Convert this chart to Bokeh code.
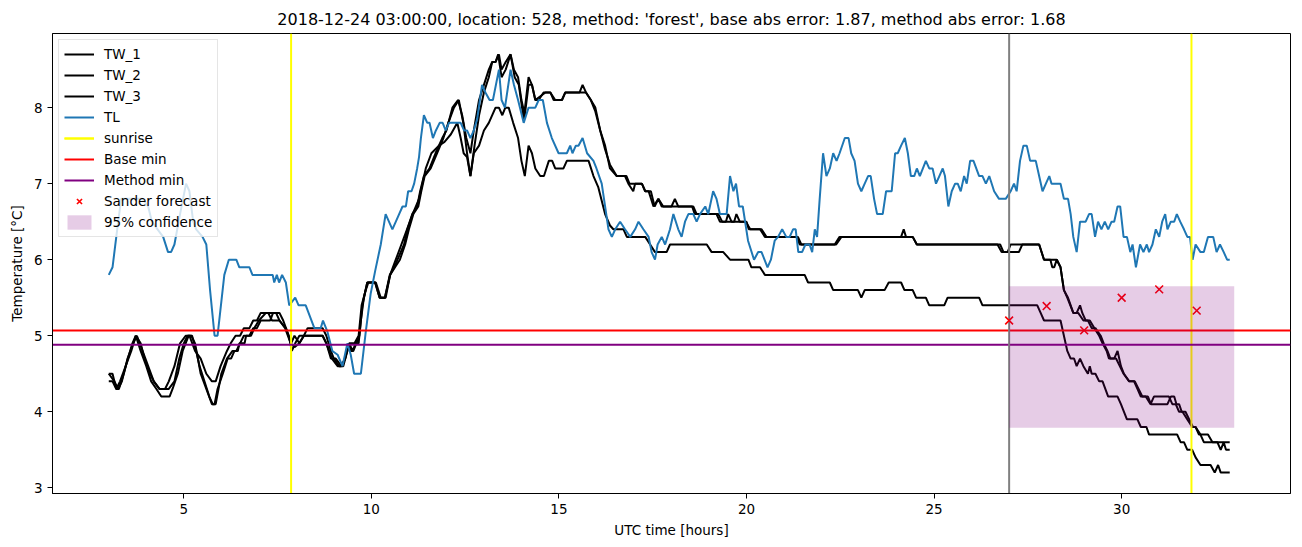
from bokeh.plotting import figure
from bokeh.models import FixedTicker, Range1d
from bokeh.embed import file_html
from bokeh.resources import INLINE

title_text = "2018-12-24 03:00:00, location: 528, method: 'forest', base abs error: 1.87, method abs error: 1.68"

tl_t = [3.0, 3.1, 3.2, 3.33, 3.5, 3.7, 3.9, 4.05, 4.15, 4.3, 4.45, 4.58, 4.66, 4.75, 4.9, 5.06, 5.15, 5.25, 5.33, 5.5,
        5.6, 5.7, 5.82, 5.9, 6.08, 6.2, 6.4, 6.48, 6.75, 6.83, 7.37, 7.41, 7.48, 7.54, 7.62, 7.72, 7.81, 7.97, 8.06, 8.25,
        8.48, 8.65, 8.71, 8.83, 8.96, 9.1, 9.23, 9.36, 9.45, 9.54, 9.72, 9.85, 9.98, 10.1, 10.25, 10.38, 10.56, 10.74, 10.83, 10.92,
        10.98, 11.07, 11.14, 11.22, 11.27, 11.32, 11.4, 11.49, 11.55, 11.64, 11.72, 11.82, 11.9, 11.98, 12.07, 12.38, 12.47, 12.55, 12.64, 12.73,
        12.82, 12.95, 13.04, 13.15, 13.24, 13.4, 13.47, 13.56, 13.71, 13.8, 13.91, 14.06, 14.19, 14.37, 14.46, 14.57, 14.68, 14.81, 14.99, 15.21,
        15.3, 15.36, 15.45, 15.52, 15.63, 15.75, 15.92, 16.0, 16.14, 16.23, 16.32, 16.41, 16.5, 16.63, 16.76, 16.9, 17.03, 17.12, 17.25, 17.39,
        17.47, 17.56, 17.63, 17.74, 17.83, 17.96, 18.05, 18.18, 18.27, 18.36, 18.45, 18.58, 18.67, 18.76, 18.9, 18.98, 19.11, 19.2, 19.29, 19.47,
        19.56, 19.65, 19.72, 19.8, 19.9, 20.04, 20.2, 20.31, 20.4, 20.56, 20.65, 20.75, 20.84, 20.95, 21.06, 21.15, 21.24, 21.31, 21.38, 21.48,
        21.57, 21.68, 21.75, 21.82, 21.88, 21.95, 22.04, 22.13, 22.22, 22.31, 22.4, 22.48, 22.62, 22.72, 22.79, 22.88, 22.97, 23.06, 23.15, 23.24,
        23.31, 23.4, 23.48, 23.63, 23.72, 23.87, 23.96, 24.03, 24.12, 24.22, 24.3, 24.38, 24.47, 24.54, 24.62, 24.78, 24.87, 24.96, 25.05, 25.14,
        25.23, 25.29, 25.38, 25.47, 25.56, 25.63, 25.71, 25.8, 25.87, 25.96, 26.05, 26.2, 26.29, 26.38, 26.47, 26.6, 26.73, 26.91, 27.04, 27.13,
        27.2, 27.29, 27.38, 27.47, 27.56, 27.71, 27.8, 27.89, 27.98, 28.07, 28.13, 28.37, 28.46, 28.57, 28.64, 28.71, 28.8, 28.89, 29.04, 29.13,
        29.2, 29.29, 29.37, 29.46, 29.55, 29.64, 29.73, 29.8, 29.89, 29.96, 30.05, 30.14, 30.23, 30.29, 30.38, 30.49, 30.58, 30.67, 30.73, 30.82,
        30.91, 31.0, 31.08, 31.16, 31.22, 31.31, 31.4, 31.47, 31.56, 31.66, 31.75, 31.82, 31.89, 31.97, 32.1, 32.19, 32.3, 32.44, 32.53, 32.62,
        32.72, 32.81, 32.88]
tl_v = [5.8, 5.9, 6.3, 6.8, 6.8, 6.8, 6.8, 6.7, 6.5, 6.4, 6.3, 6.1, 6.1, 6.2, 6.6, 7.0, 6.9, 6.5, 6.4, 6.3,
        6.2, 5.6, 5.0, 5.0, 5.8, 6.0, 6.0, 5.9, 5.9, 5.8, 5.8, 5.7, 5.8, 5.7, 5.8, 5.7, 5.4, 5.5, 5.4, 5.4,
        5.1, 5.1, 5.2, 5.05, 4.8, 4.75, 4.6, 4.9, 4.75, 4.5, 4.5, 5.05, 5.55, 5.85, 6.2, 6.6, 6.4, 6.6, 6.7, 6.7,
        6.9, 6.9, 7.0, 7.2, 7.35, 7.6, 7.9, 7.8, 7.8, 7.6, 7.7, 7.8, 7.8, 7.7, 7.8, 7.8, 7.7, 7.7, 7.6, 7.7,
        7.85, 8.3, 8.2, 8.1, 8.1, 8.5, 8.1, 8.0, 8.5, 8.3, 8.1, 7.8, 8.0, 8.0, 8.1, 8.1, 7.8, 7.6, 7.4, 7.4,
        7.5, 7.4, 7.5, 7.5, 7.6, 7.4, 7.3, 7.2, 7.0, 6.7, 6.4, 6.3, 6.4, 6.5, 6.4, 6.3, 6.4, 6.5, 6.4, 6.3,
        6.1, 6.0, 6.2, 6.3, 6.2, 6.4, 6.6, 6.4, 6.3, 6.5, 6.6, 6.6, 6.5, 6.6, 6.7, 6.6, 6.9, 6.8, 6.6, 6.6,
        7.1, 6.9, 7.0, 6.7, 6.7, 6.25, 6.0, 6.1, 6.1, 5.9, 6.0, 6.25, 6.3, 6.4, 6.3, 6.3, 6.4, 6.4, 6.1, 6.1,
        6.2, 6.2, 6.1, 6.4, 6.3, 6.8, 7.4, 7.1, 7.2, 7.4, 7.3, 7.4, 7.6, 7.6, 7.4, 7.3, 7.0, 6.9, 7.0, 7.1,
        7.1, 6.8, 6.6, 6.6, 6.9, 6.9, 7.4, 7.4, 7.5, 7.6, 7.4, 7.1, 7.1, 7.2, 7.1, 7.3, 7.2, 7.2, 7.0, 7.1,
        7.2, 7.1, 6.7, 6.9, 7.0, 7.0, 6.9, 7.1, 7.0, 7.3, 7.3, 7.1, 7.1, 7.0, 7.1, 6.9, 6.8, 6.8, 6.9, 7.0,
        6.9, 7.3, 7.5, 7.5, 7.3, 7.3, 7.1, 6.9, 7.0, 7.1, 7.0, 7.0, 6.8, 6.8, 6.6, 6.3, 6.1, 6.5, 6.5, 6.6,
        6.6, 6.3, 6.5, 6.4, 6.5, 6.4, 6.5, 6.5, 6.7, 6.7, 6.3, 6.3, 6.1, 6.2, 5.9, 6.2, 6.1, 6.2, 6.1, 6.2,
        6.4, 6.3, 6.5, 6.6, 6.4, 6.5, 6.5, 6.6, 6.5, 6.4, 6.3, 6.3, 6.0, 6.2, 6.1, 6.1, 6.3, 6.3, 6.1, 6.2,
        6.1, 6.0, 6.0]

tw1_t = [3.0, 3.1, 3.2, 3.27, 3.4, 3.51, 3.63, 3.72, 3.85, 4.0, 4.13, 4.27, 4.4, 4.62, 4.7, 4.84, 4.97, 5.13, 5.22, 5.33,
         5.42, 5.55, 5.68, 5.77, 5.82, 5.9, 6.04, 6.17, 6.26, 6.35, 6.44, 6.48, 6.62, 6.66, 6.79, 6.88, 7.0, 7.19, 7.46, 7.55,
         7.72, 7.86, 7.95, 8.08, 8.2, 8.3, 8.7, 8.8, 8.92, 9.0, 9.14, 9.25, 9.36, 9.41, 9.5, 9.58, 9.66, 9.72, 9.8, 9.89,
         10.12, 10.25, 10.36, 10.49, 10.61, 10.74, 10.87, 10.96, 11.09, 11.22, 11.3, 11.4, 11.55, 11.71, 11.89, 12.0, 12.16, 12.31, 12.42, 12.53,
         12.64, 12.73, 12.87, 13.0, 13.13, 13.22, 13.31, 13.4, 13.47, 13.58, 13.71, 13.8, 13.91, 14.0, 14.09, 14.19, 14.28, 14.37, 14.46, 14.59,
         14.77, 14.86, 15.08, 15.17, 15.55, 15.63, 15.72, 15.85, 15.97, 16.1, 16.23, 16.36, 16.54, 16.76, 16.85, 16.98, 17.03, 17.21, 17.3, 17.39,
         17.52, 17.65, 17.74, 18.0, 18.09, 18.18, 18.58, 18.67, 18.89, 19.2, 19.29, 19.45, 19.51, 19.6, 19.67, 19.73, 19.82, 20.0, 20.06, 20.36,
         20.49, 21.33, 21.42, 22.39, 22.53, 24.12, 24.19, 24.25, 24.43, 24.54, 26.69, 26.8, 26.96, 27.04, 27.8, 27.93, 28.27, 28.37, 28.46, 28.55,
         28.71, 28.8, 28.89, 28.95, 29.04, 29.15, 29.27, 29.4, 29.49, 29.6, 29.66, 29.8, 29.89, 29.98, 30.06, 30.2, 30.33, 30.42, 30.51, 30.64,
         30.77, 30.86, 31.26, 31.35, 31.44, 31.53, 31.62, 31.75, 31.88, 31.97, 32.1, 32.19, 32.88]
tw1_v = [4.5, 4.5, 4.3, 4.3, 4.5, 4.7, 4.9, 5.0, 4.8, 4.6, 4.4, 4.3, 4.2, 4.2, 4.3, 4.5, 4.8, 5.0, 5.0, 4.8,
         4.6, 4.4, 4.2, 4.1, 4.1, 4.3, 4.5, 4.7, 4.7, 4.8, 4.8, 4.9, 4.9, 5.0, 5.0, 5.1, 5.2, 5.3, 5.3, 5.2,
         5.1, 4.9, 5.0, 4.9, 5.0, 5.1, 5.1, 5.0, 4.8, 4.7, 4.6, 4.6, 4.8, 4.9, 4.8, 4.9, 4.9, 5.2, 5.5, 5.7,
         5.7, 5.5, 5.5, 5.8, 5.9, 6.05, 6.2, 6.4, 6.6, 6.7, 6.9, 7.1, 7.2, 7.4, 7.6, 7.7, 8.0, 8.1, 7.9, 7.6,
         7.4, 7.7, 8.1, 8.3, 8.5, 8.6, 8.6, 8.7, 8.5, 8.6, 8.7, 8.5, 8.4, 8.1, 7.9, 8.3, 8.3, 8.1, 8.1, 8.2,
         8.2, 8.1, 8.1, 8.2, 8.2, 8.3, 8.2, 8.1, 8.0, 7.7, 7.5, 7.2, 7.1, 7.1, 7.0, 6.9, 7.0, 7.0, 6.9, 6.9,
         6.7, 6.8, 6.7, 6.7, 6.8, 6.7, 6.7, 6.6, 6.6, 6.6, 6.5, 6.5, 6.6, 6.5, 6.5, 6.6, 6.5, 6.5, 6.4, 6.4,
         6.3, 6.3, 6.2, 6.2, 6.3, 6.3, 6.4, 6.3, 6.3, 6.2, 6.2, 6.1, 6.1, 6.2, 6.2, 6.0, 6.0, 5.9, 5.6, 5.5,
         5.3, 5.3, 5.4, 5.3, 5.2, 5.2, 5.1, 5.0, 4.9, 4.8, 4.7, 4.7, 4.8, 4.6, 4.5, 4.4, 4.4, 4.3, 4.2, 4.2,
         4.1, 4.2, 4.2, 4.1, 4.1, 4.0, 4.0, 3.9, 3.8, 3.8, 3.7, 3.6, 3.6]

tw2_t = [3.0, 3.15, 3.25, 3.35, 3.5, 3.65, 3.75, 3.9, 4.05, 4.2, 4.35, 4.6, 4.75, 4.88, 5.0, 5.1, 5.2, 5.3, 5.45, 5.6,
         5.75, 5.85, 6.0, 6.15, 6.3, 6.4, 6.5, 6.6, 6.75, 6.85, 6.95, 7.05, 7.3, 7.38, 7.55, 7.65, 7.8, 7.88, 7.97, 8.08,
         8.7, 8.8, 8.92, 9.05, 9.2, 9.3, 9.41, 9.55, 9.66, 9.74, 9.85, 9.92, 10.1, 10.22, 10.38, 10.5, 10.63, 10.76, 10.9, 11.0,
         11.12, 11.25, 11.33, 11.42, 11.58, 11.75, 11.92, 12.05, 12.2, 12.33, 12.45, 12.55, 12.64, 12.75, 12.87, 13.0, 13.13, 13.22, 13.31, 13.38,
         13.47, 13.58, 13.71, 13.82, 13.93, 14.06, 14.19, 14.28, 14.37, 14.64, 14.77, 14.9, 15.08, 15.17, 15.72, 15.85, 15.97, 16.1, 16.23, 16.36,
         16.54, 16.8, 16.88, 17.21, 17.3, 17.45, 17.55, 17.65, 17.78, 18.55, 18.62, 19.25, 19.35, 19.98, 20.1, 20.4, 20.53, 21.37, 21.46, 22.35,
         22.48, 24.43, 24.54, 26.76, 26.85, 27.26, 27.35, 27.8, 27.93, 28.1, 28.15, 28.2, 28.27, 28.37, 28.46, 28.57, 28.71, 28.84, 28.98, 29.1,
         29.2, 29.3, 29.44, 29.52, 29.62, 29.7, 29.85, 29.95, 30.05, 30.2, 30.35, 30.45, 30.55, 30.7, 30.78, 31.22, 31.31, 31.4, 31.46, 31.53,
         31.6, 31.7, 31.8, 31.9, 31.97, 32.06, 32.3, 32.42, 32.55, 32.64, 32.72, 32.78, 32.88]
tw2_v = [4.5, 4.4, 4.3, 4.4, 4.7, 4.9, 5.0, 4.8, 4.6, 4.4, 4.3, 4.3, 4.4, 4.7, 4.9, 5.0, 5.0, 4.9, 4.5, 4.3,
         4.1, 4.1, 4.5, 4.7, 4.8, 4.8, 4.9, 5.0, 5.0, 5.1, 5.1, 5.2, 5.2, 5.3, 5.3, 5.2, 5.0, 4.8, 4.9, 5.0,
         5.0, 4.9, 4.7, 4.7, 4.6, 4.7, 4.9, 4.9, 5.0, 5.4, 5.6, 5.7, 5.7, 5.5, 5.5, 5.8, 5.9, 6.0, 6.2, 6.4,
         6.6, 6.7, 6.9, 7.1, 7.2, 7.4, 7.6, 7.8, 8.0, 8.1, 7.8, 7.4, 7.1, 7.5, 7.9, 8.2, 8.4, 8.6, 8.6, 8.7,
         8.4, 8.5, 8.7, 8.4, 8.3, 7.85, 8.4, 8.3, 8.1, 8.2, 8.2, 8.1, 8.1, 8.2, 8.2, 8.1, 7.95, 7.7, 7.45, 7.25,
         7.1, 7.1, 7.0, 7.0, 6.9, 6.9, 6.7, 6.8, 6.7, 6.7, 6.6, 6.6, 6.5, 6.5, 6.4, 6.4, 6.3, 6.3, 6.2, 6.2,
         6.3, 6.3, 6.2, 6.2, 6.1, 6.1, 6.2, 6.2, 6.0, 6.0, 5.9, 5.9, 6.0, 5.9, 5.6, 5.5, 5.3, 5.3, 5.2, 5.2,
         5.1, 5.1, 5.0, 4.9, 4.8, 4.7, 4.7, 4.6, 4.5, 4.4, 4.4, 4.3, 4.2, 4.2, 4.1, 4.1, 4.2, 4.2, 4.1, 4.1,
         4.0, 4.0, 3.9, 3.8, 3.8, 3.7, 3.7, 3.6, 3.6, 3.5, 3.6, 3.5, 3.5]

tw3_t = [3.0, 3.1, 3.2, 3.3, 3.45, 3.6, 3.72, 3.85, 3.95, 4.1, 4.2, 4.35, 4.5, 4.6, 4.75, 4.9, 5.05, 5.15, 5.3, 5.45,
         5.6, 5.75, 5.85, 5.98, 6.15, 6.25, 6.38, 6.5, 6.6, 6.75, 6.85, 6.95, 7.05, 7.25, 7.35, 7.55, 7.7, 7.85, 7.95, 8.08,
         8.2, 8.7, 8.8, 8.95, 9.1, 9.2, 9.3, 9.38, 9.45, 9.52, 9.6, 9.68, 9.76, 9.89, 10.1, 10.22, 10.36, 10.5, 10.65, 10.8,
         10.95, 11.1, 11.27, 11.45, 11.6, 11.8, 11.95, 12.12, 12.29, 12.38, 12.46, 12.55, 12.64, 12.73, 12.87, 13.0, 13.13, 13.31, 13.4, 13.49,
         13.57, 13.66, 13.78, 13.91, 14.0, 14.09, 14.19, 14.28, 14.37, 14.5, 14.6, 14.73, 14.82, 14.9, 15.12, 15.21, 15.79, 15.92, 16.05, 16.23,
         16.36, 16.45, 16.72, 16.81, 17.3, 17.43, 17.56, 17.87, 17.96, 18.94, 19.07, 19.38, 19.56, 20.05, 20.13, 20.36, 20.49, 21.55, 21.64, 22.22,
         22.31, 22.97, 23.06, 23.15, 23.68, 23.79, 24.12, 24.21, 24.43, 24.52, 24.78, 24.87, 25.27, 25.36, 26.2, 26.29, 27.75, 27.84, 27.93, 28.37,
         28.46, 28.55, 28.64, 28.73, 28.8, 28.89, 28.98, 29.1, 29.15, 29.2, 29.3, 29.4, 29.49, 29.64, 29.89, 29.98, 30.14, 30.42, 30.51, 30.66,
         30.73, 31.48, 31.57, 31.66, 31.75, 31.88, 31.97, 32.1, 32.37, 32.48, 32.57, 32.64, 32.88]
tw3_v = [4.4, 4.4, 4.3, 4.4, 4.6, 4.8, 5.0, 4.9, 4.7, 4.5, 4.4, 4.3, 4.3, 4.4, 4.6, 4.9, 5.0, 5.0, 4.8, 4.7,
         4.5, 4.4, 4.4, 4.6, 4.8, 4.9, 5.0, 5.0, 5.1, 5.1, 5.2, 5.2, 5.3, 5.3, 5.2, 5.2, 5.1, 4.9, 4.85, 4.9,
         5.0, 5.0, 4.9, 4.7, 4.6, 4.6, 4.7, 4.9, 4.8, 4.8, 4.9, 5.0, 5.4, 5.7, 5.7, 5.5, 5.5, 5.8, 6.0, 6.2,
         6.4, 6.6, 6.8, 7.2, 7.4, 7.5, 7.55, 7.65, 7.8, 7.6, 7.4, 7.35, 7.1, 7.4, 7.5, 7.7, 7.8, 8.0, 8.0, 7.9,
         8.0, 8.0, 7.8, 7.6, 7.3, 7.1, 7.5, 7.4, 7.2, 7.1, 7.1, 7.3, 7.3, 7.2, 7.2, 7.3, 7.3, 7.1, 6.95, 6.6,
         6.45, 6.4, 6.4, 6.3, 6.3, 6.2, 6.1, 6.1, 6.2, 6.2, 6.1, 6.1, 6.0, 6.0, 5.9, 5.9, 5.8, 5.8, 5.7, 5.7,
         5.6, 5.6, 5.5, 5.6, 5.6, 5.7, 5.7, 5.6, 5.6, 5.5, 5.5, 5.4, 5.4, 5.5, 5.5, 5.4, 5.4, 5.3, 5.2, 5.2,
         5.0, 4.8, 4.7, 4.7, 4.6, 4.7, 4.6, 4.5, 4.6, 4.5, 4.5, 4.4, 4.4, 4.2, 4.2, 4.1, 3.9, 3.9, 3.8, 3.8,
         3.7, 3.7, 3.6, 3.6, 3.5, 3.5, 3.4, 3.3, 3.3, 3.2, 3.3, 3.2, 3.2]

sunrise_hours = [7.86, 31.86]
forecast_start = 27.0
forecast_end = 33.0
base_min = 5.07
method_min = 4.88
sander_hours = [27, 28, 29, 30, 31, 32]
sander_values = [5.2, 5.39, 5.07, 5.5, 5.61, 5.33]
conf_low = 3.79
conf_high = 5.65

x_lo, x_hi = 1.5, 34.5
y_lo, y_hi = 2.925, 8.975

FONT = "DejaVu Sans"

p = figure(width=1302, height=547, output_backend="svg", toolbar_location=None,
           x_range=Range1d(x_lo, x_hi), y_range=Range1d(y_lo, y_hi),
           min_border_left=52, min_border_right=12, min_border_top=33, min_border_bottom=54,
           title=title_text)
p.title.align = "center"
p.title.text_font = FONT
p.title.text_font_size = "16px"
p.title.text_font_style = "normal"
p.title.text_color = "black"

p.background_fill_color = "white"
p.border_fill_color = "white"
p.outline_line_color = "black"
p.outline_line_width = 1
p.grid.visible = False

for ax in (p.xaxis[0], p.yaxis[0]):
    ax.major_label_text_font = FONT
    ax.major_label_text_font_size = "13.5px"
    ax.major_label_text_color = "black"
    ax.axis_label_text_font = FONT
    ax.axis_label_text_font_size = "13.5px"
    ax.axis_label_text_font_style = "normal"
    ax.axis_label_text_color = "black"
    ax.major_tick_in = 0
    ax.major_tick_out = 5
    ax.minor_tick_line_color = None
    ax.axis_line_color = "black"
    ax.major_tick_line_color = "black"

p.xaxis.ticker = FixedTicker(ticks=[5, 10, 15, 20, 25, 30])
p.yaxis.ticker = FixedTicker(ticks=[3, 4, 5, 6, 7, 8])
p.xaxis.axis_label = "UTC time [hours]"
p.yaxis.axis_label = "Temperature [°C]"
p.yaxis.axis_label_standoff = 6

lw = 2
p.line(tw1_t, tw1_v, line_color="black", line_width=lw, legend_label="TW_1")
p.line(tw2_t, tw2_v, line_color="black", line_width=lw, legend_label="TW_2")
p.line(tw3_t, tw3_v, line_color="black", line_width=lw, legend_label="TW_3")
p.line(tl_t, tl_v, line_color="#1f77b4", line_width=lw, legend_label="TL")
for s in sunrise_hours:
    p.line([s, s], [y_lo, y_hi], line_color="yellow", line_width=lw, legend_label="sunrise")
p.line([x_lo, x_hi], [base_min, base_min], line_color="red", line_width=lw, legend_label="Base min")
p.line([x_lo, x_hi], [method_min, method_min], line_color="purple", line_width=lw, legend_label="Method min")
p.line([forecast_start, forecast_start], [y_lo, y_hi], line_color="gray", line_width=lw)
p.scatter(sander_hours, sander_values, marker="x", size=11, line_color="red", line_width=1.6,
          legend_label="Sander forecast")
p.quad(left=[forecast_start], right=[forecast_end], bottom=[conf_low], top=[conf_high],
       fill_color="purple", fill_alpha=0.2, line_color=None, legend_label="95% confidence")

lg = p.legend[0]
lg.location = "top_left"
lg.margin = 6
lg.padding = 5
lg.spacing = 3
lg.glyph_width = 30
lg.glyph_height = 18
lg.label_height = 18
lg.label_standoff = 10
lg.label_text_font = FONT
lg.label_text_font_size = "13.5px"
lg.label_text_color = "black"
lg.border_line_color = "#cccccc"
lg.border_line_width = 1
lg.background_fill_alpha = 0.8

open("out.html", "w").write(file_html(p, INLINE))
